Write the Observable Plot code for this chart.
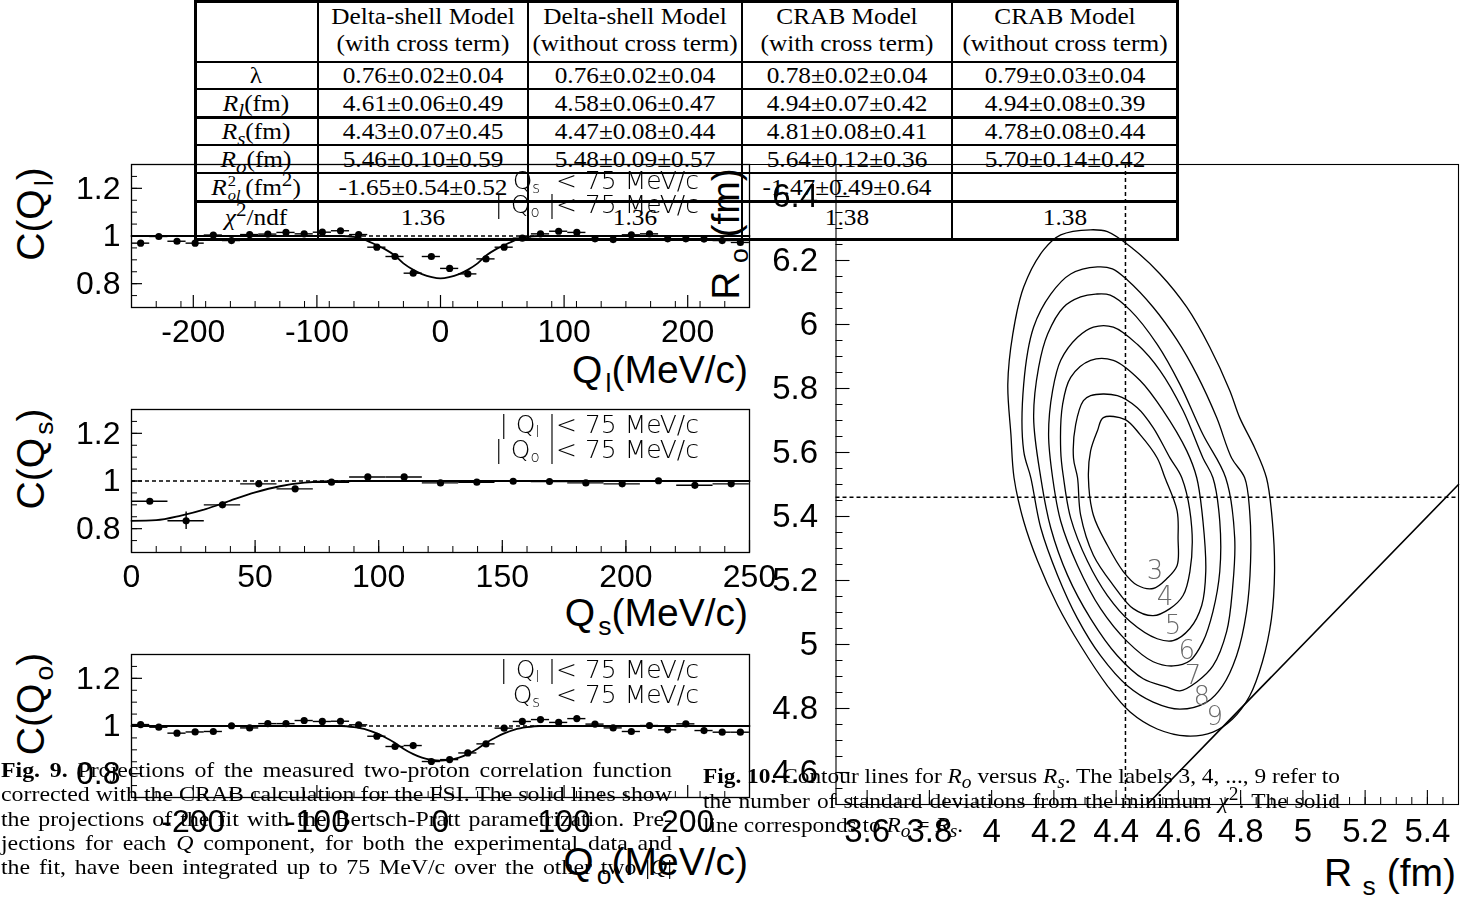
<!DOCTYPE html>
<html><head><meta charset="utf-8"><title>Two-proton correlation projections and R_o vs R_s contours</title>
<script src="https://cdn.jsdelivr.net/npm/d3@7"></script>
<script src="https://cdn.jsdelivr.net/npm/@observablehq/plot@0.6"></script>
<style>
html,body{margin:0;padding:0;background:#fff;}
body{position:relative;width:1481px;height:903px;overflow:hidden;color:#000;}
.t{position:absolute;white-space:nowrap;}
.sans{font-family:"Liberation Sans",Arial,Helvetica,sans-serif;}
.serif{font-family:"Liberation Serif","Times New Roman",Times,serif;}
sub,sup{line-height:0;}
.title{font-size:39px;line-height:40px;}
.title sub{font-size:0.68em;vertical-align:-0.35em;margin-left:0.12em;}
.ann{font-family:"DejaVu Sans",sans-serif;font-weight:200;font-size:25px;line-height:26px;color:#000;filter:grayscale(1);}
.ann sub{font-size:0.6em;vertical-align:-0.25em;}
.cell{font-size:23px;line-height:26px;text-align:center;transform:translate(-50%,-50%) scaleX(1.1);}
.ss{position:relative;display:inline-block;width:17px;height:12px;}
.ss .a{position:absolute;left:1px;top:-9px;font-size:15px;line-height:15px;}
.ss .b{position:absolute;left:1px;top:5px;font-size:15px;line-height:15px;}
.line{position:absolute;background:#000;}
.cap{position:absolute;font-family:"Liberation Serif","Times New Roman",serif;font-size:22px;line-height:24px;white-space:nowrap;}
.just{text-align:justify;text-align-last:justify;white-space:normal;}
svg{overflow:visible;}
</style></head><body>
<script>
// ======================= DATA =======================
// bin centres (MeV/c) of the 1D projections
const qBinsFull = [-242.6,-227.9,-213.2,-198.5,-183.8,-169.1,-154.4,-139.7,-125.0,-110.3,-95.6,-80.9,-66.2,-51.5,-36.8,-22.1,-7.4,7.4,22.1,36.8,51.5,66.2,80.9,95.6,110.3,125.0,139.7,154.4,169.1,183.8,198.5,213.2,227.9,242.6];
const qBinsHalf = [7.4,22.1,36.8,51.5,66.2,80.9,95.6,110.3,125.0,139.7,154.4,169.1,183.8,198.5,213.2,227.9,242.6];
const binHalfWidth = 7.35;

// C(Q_l)
const qlValues = [0.970,0.998,0.978,0.970,1.004,0.981,1.006,1.008,1.015,1.009,1.016,1.022,1.006,0.953,0.914,0.844,0.914,0.864,0.841,0.904,0.953,0.991,1.009,1.020,1.015,0.988,0.985,1.005,1.009,0.988,0.988,0.987,0.981,0.973];
const qlErrors = [0.007,0.007,0.007,0.007,0.007,0.007,0.007,0.007,0.007,0.007,0.007,0.007,0.008,0.008,0.009,0.010,0.010,0.010,0.010,0.009,0.008,0.008,0.007,0.007,0.007,0.007,0.007,0.007,0.007,0.007,0.007,0.007,0.007,0.007];
const qlFitX = [-250,-80,-70,-60,-52,-45,-37,-30,-22,-15,-7,0,7,15,22,30,37,45,52,60,70,80,250];
const qlFitY = [1.0,1.0,0.996,0.982,0.962,0.945,0.918,0.885,0.858,0.840,0.827,0.822,0.827,0.840,0.858,0.885,0.918,0.945,0.962,0.982,0.996,1.0,1.0];

// C(Q_s)
const qsValues = [0.915,0.833,0.900,0.988,0.967,0.995,1.017,1.017,0.992,0.995,0.999,0.998,0.992,0.988,1.001,0.982,0.988];
const qsErrors = [0.012,0.037,0.012,0.008,0.007,0.006,0.006,0.006,0.005,0.005,0.005,0.005,0.005,0.005,0.005,0.005,0.005];
const qsFitX = [0,10,20,30,40,50,60,70,80,90,250];
const qsFitY = [0.833,0.836,0.855,0.882,0.918,0.952,0.978,0.993,0.999,1.0,1.0];

// C(Q_o)
const qoValues = [1.006,0.995,0.970,0.975,0.977,1.001,0.992,1.010,1.010,1.023,1.019,1.020,1.005,0.957,0.914,0.918,0.851,0.859,0.887,0.925,0.991,1.019,1.027,1.015,1.031,1.008,0.992,0.977,1.002,0.984,1.009,0.981,0.974,0.974];
const qoErrors = [0.007,0.007,0.007,0.007,0.007,0.007,0.007,0.007,0.007,0.007,0.007,0.007,0.008,0.008,0.009,0.010,0.010,0.010,0.010,0.009,0.008,0.008,0.007,0.007,0.007,0.007,0.007,0.007,0.007,0.007,0.007,0.007,0.007,0.007];
const qoFitX = [-250,-80,-70,-60,-52,-45,-37,-30,-22,-15,-7,0,7,15,22,30,37,45,52,60,70,80,250];
const qoFitY = [1.0,1.0,0.995,0.985,0.970,0.953,0.930,0.905,0.882,0.867,0.858,0.855,0.858,0.867,0.882,0.905,0.930,0.953,0.970,0.985,0.995,1.0,1.0];

// tick labels
const qFullTicks = [-200,-100,0,100,200];
const qHalfTicks = [0,50,100,150,200,250];
const cTicks = [0.8,1,1.2];
const rsTicks = [3.6,3.8,4,4.2,4.4,4.6,4.8,5,5.2,5.4];
const roTicks = [4.6,4.8,5,5.2,5.4,5.6,5.8,6,6.2,6.4];

// contour lines (R_s, R_o in fm), levels = number of standard deviations
const contourLevels = [3,4,5,6,7,8,9];
const contour3Rs = [4.359,4.429,4.477,4.532,4.557,4.596,4.599,4.596,4.564,4.519,4.468,4.423,4.372,4.327,4.311,4.318,4.340];
const contour3Ro = [5.709,5.703,5.656,5.583,5.521,5.417,5.332,5.247,5.207,5.175,5.185,5.228,5.310,5.404,5.521,5.605,5.668];
const contour4Rs = [4.318,4.404,4.468,4.519,4.573,4.611,4.643,4.637,4.615,4.573,4.519,4.455,4.391,4.327,4.286,4.276,4.263,4.270,4.295];
const contour4Ro = [5.778,5.778,5.740,5.678,5.583,5.521,5.364,5.228,5.153,5.112,5.090,5.112,5.185,5.279,5.404,5.521,5.583,5.687,5.762];
const contour5Rs = [4.318,4.391,4.477,4.551,4.627,4.659,4.679,4.688,4.675,4.637,4.583,4.532,4.445,4.372,4.308,4.254,4.231,4.222,4.228,4.254];
const contour5Ro = [5.888,5.888,5.825,5.731,5.605,5.521,5.385,5.228,5.122,5.050,5.012,5.018,5.072,5.153,5.260,5.395,5.521,5.605,5.750,5.835];
const contour6Rs = [4.327,4.391,4.468,4.541,4.615,4.679,4.711,4.733,4.733,4.711,4.679,4.637,4.583,4.519,4.436,4.350,4.276,4.222,4.196,4.183,4.196,4.222,4.276];
const contour6Ro = [5.992,5.992,5.938,5.856,5.731,5.583,5.521,5.385,5.228,5.103,5.009,4.949,4.933,4.946,5.009,5.112,5.247,5.385,5.521,5.656,5.794,5.888,5.960];
const contour7Rs = [4.334,4.381,4.445,4.532,4.605,4.679,4.752,4.781,4.774,4.755,4.711,4.659,4.605,4.564,4.487,4.404,4.318,4.244,4.190,4.158,4.135,4.151,4.180,4.231,4.286];
const contour7Ro = [6.095,6.092,6.045,5.938,5.813,5.656,5.521,5.332,5.175,5.040,4.933,4.883,4.855,4.867,4.893,4.965,5.081,5.216,5.364,5.521,5.709,5.866,5.970,6.054,6.086];
const contour8Rs = [4.340,4.388,4.436,4.519,4.596,4.659,4.723,4.771,4.813,4.829,4.832,4.819,4.787,4.742,4.691,4.605,4.519,4.436,4.350,4.276,4.212,4.158,4.126,4.103,4.103,4.135,4.190,4.254];
const contour8Ro = [6.180,6.174,6.139,6.054,5.951,5.844,5.709,5.583,5.521,5.417,5.260,5.103,4.965,4.871,4.820,4.798,4.820,4.871,4.965,5.081,5.216,5.364,5.521,5.605,5.813,5.992,6.095,6.158];
const contour9Rs = [4.318,4.372,4.455,4.541,4.627,4.701,4.765,4.797,4.845,4.883,4.902,4.909,4.899,4.870,4.829,4.774,4.711,4.627,4.532,4.445,4.372,4.286,4.212,4.148,4.103,4.072,4.062,4.052,4.068,4.103,4.167,4.222];
const contour9Ro = [6.296,6.290,6.236,6.158,6.054,5.929,5.794,5.709,5.615,5.521,5.385,5.228,5.081,4.946,4.839,4.767,4.726,4.714,4.736,4.789,4.871,4.996,5.122,5.260,5.385,5.521,5.656,5.813,5.970,6.117,6.233,6.280];
const labelRs = [4.525,4.557,4.583,4.627,4.647,4.675,4.717];
const labelRo = [5.232,5.150,5.059,4.980,4.902,4.836,4.773];
const fitMinRs = 4.43, fitMinRo = 5.46;     // best-fit point (dashed lines)
const diagRs = [4.5,5.5], diagRo = [4.5,5.5]; // R_o = R_s

// table
const tableHead1 = ["Delta-shell Model","Delta-shell Model","CRAB Model","CRAB Model"];
const tableHead2 = ["(with cross term)","(without cross term)","(with cross term)","(without cross term)"];
const tableRowLabels = ["λ","<i>R</i><sub><i>l</i></sub>(fm)","<i>R</i><sub><i>s</i></sub>(fm)","<i>R</i><sub><i>o</i></sub>(fm)","<i>R</i><span class='ss'><span class='a'>2</span><span class='b'><i>ol</i></span></span>(fm<sup>2</sup>)","<i>χ</i><sup>2</sup>/ndf"];
const tableLambda = ["0.76±0.02±0.04","0.76±0.02±0.04","0.78±0.02±0.04","0.79±0.03±0.04"];
const tableRl = ["4.61±0.06±0.49","4.58±0.06±0.47","4.94±0.07±0.42","4.94±0.08±0.39"];
const tableRs = ["4.43±0.07±0.45","4.47±0.08±0.44","4.81±0.08±0.41","4.78±0.08±0.44"];
const tableRo = ["5.46±0.10±0.59","5.48±0.09±0.57","5.64±0.12±0.36","5.70±0.14±0.42"];
const tableRol2 = ["-1.65±0.54±0.52","","-1.47±0.49±0.64",""];
const tableChi2 = ["1.36","1.36","1.38","1.38"];

// ======================= LAYOUT HELPERS =======================
const fontSans = "'Liberation Sans', Arial, Helvetica, sans-serif";
function addDiv(cls, style, html) {
  const d = document.createElement("div");
  d.className = cls;
  Object.assign(d.style, style);
  d.innerHTML = html;
  document.body.appendChild(d);
  return d;
}
const fmt = d => String(d);

// ======================= 1D PANELS =======================
function panel({frameTop, xDomain, xTicks, xMinorStep, bins, values, errors, fitX, fitY}) {
  const W = 760, ml = 131, mr = 11, mt = 24, fh = 143, H = 262, mb = H - mt - fh;
  const fw = W - ml - mr;
  const pts = bins.map((q, i) => ({q, c: values[i], e: errors[i]}));
  const fit = fitX.map((x, i) => ({x, y: fitY[i]}));
  const xMinor = d3.range(xDomain[0], xDomain[1] + 1e-9, xMinorStep);
  const yMinor = d3.range(0.7, 1.3001, 0.05);
  const svg = Plot.plot({
    width: W, height: H, marginLeft: ml, marginRight: mr, marginTop: mt, marginBottom: mb,
    x: {domain: xDomain, label: null},
    y: {domain: [0.7, 1.3], label: null},
    style: {background: "transparent", overflow: "visible", fontFamily: fontSans, fontSize: "32px", color: "black"},
    marks: [
      Plot.ruleY([1], {strokeDasharray: "4,3", strokeWidth: 1.6}),
      Plot.line(fit, {x: "x", y: "y", curve: "monotone-x", strokeWidth: 1.8}),
      Plot.ruleY(pts, {y: "c", x1: d => d.q - binHalfWidth, x2: d => d.q + binHalfWidth, strokeWidth: 1.4}),
      Plot.ruleX(pts, {x: "q", y1: d => d.c - d.e, y2: d => d.c + d.e, strokeWidth: 1.4}),
      Plot.dot(pts, {x: "q", y: "c", r: 3.6, fill: "black", stroke: "none"}),
      Plot.tickX(xTicks, {x: d => d, insetTop: fh - 12, strokeWidth: 1.2}),
      Plot.tickX(xMinor, {x: d => d, insetTop: fh - 6, strokeWidth: 1}),
      Plot.tickY(cTicks, {y: d => d, insetRight: fw - 11, strokeWidth: 1.2}),
      Plot.tickY(yMinor, {y: d => d, insetRight: fw - 6, strokeWidth: 1}),
      Plot.axisX({ticks: xTicks, tickSize: 0, tickPadding: 12, tickFormat: fmt, label: null, fontSize: 32}),
      Plot.axisY({ticks: cTicks, tickSize: 0, tickPadding: 11, tickFormat: fmt, label: null, fontSize: 32}),
      Plot.frame({strokeWidth: 1.3})
    ]
  });
  svg.style.position = "absolute";
  svg.style.left = "0px";
  svg.style.top = (frameTop - mt) + "px";
  svg.style.filter = "grayscale(1)";
  document.body.appendChild(svg);
}

panel({frameTop: 164, xDomain: [-250, 250], xTicks: qFullTicks, xMinorStep: 20, bins: qBinsFull, values: qlValues, errors: qlErrors, fitX: qlFitX, fitY: qlFitY});
panel({frameTop: 409, xDomain: [0, 250], xTicks: qHalfTicks, xMinorStep: 10, bins: qBinsHalf, values: qsValues, errors: qsErrors, fitX: qsFitX, fitY: qsFitY});
panel({frameTop: 654, xDomain: [-250, 250], xTicks: qFullTicks, xMinorStep: 20, bins: qBinsFull, values: qoValues, errors: qoErrors, fitX: qoFitX, fitY: qoFitY});

// ======================= CONTOUR PANEL =======================
{
  const W = 781, ml = 135.5, mr = 23, mt = 24, fh = 640, H = 763, mb = H - mt - fh;
  const fw = W - ml - mr;
  const rsArr = [contour3Rs, contour4Rs, contour5Rs, contour6Rs, contour7Rs, contour8Rs, contour9Rs];
  const roArr = [contour3Ro, contour4Ro, contour5Ro, contour6Ro, contour7Ro, contour8Ro, contour9Ro];
  const contours = contourLevels.flatMap((lev, i) => rsArr[i].map((rs, j) => ({level: lev, rs, ro: roArr[i][j]})));
  const labels = contourLevels.map((lev, i) => ({text: String(lev), rs: labelRs[i], ro: labelRo[i]}));
  const diag = diagRs.map((rs, i) => ({rs, ro: diagRo[i]}));
  const xMinor = d3.range(3.5, 5.5001, 0.05);
  const yMinor = d3.range(4.5, 6.5001, 0.05);
  const svg = Plot.plot({
    width: W, height: H, marginLeft: ml, marginRight: mr, marginTop: mt, marginBottom: mb,
    x: {domain: [3.5, 5.5], label: null},
    y: {domain: [4.5, 6.5], label: null},
    style: {background: "transparent", overflow: "visible", fontFamily: fontSans, fontSize: "33px", color: "black"},
    marks: [
      Plot.ruleX([fitMinRs], {strokeDasharray: "4,3", strokeWidth: 1.5}),
      Plot.ruleY([fitMinRo], {strokeDasharray: "4,3", strokeWidth: 1.5}),
      Plot.line(diag, {x: "rs", y: "ro", strokeWidth: 1.6}),
      Plot.line(contours, {x: "rs", y: "ro", z: "level", curve: "catmull-rom-closed", strokeWidth: 1.3}),
      Plot.text(labels, {x: "rs", y: "ro", text: "text", fill: "#6a6a6a", fontSize: 26, fontFamily: "DejaVu Sans, sans-serif", fontWeight: 200}),
      Plot.tickX(rsTicks, {x: d => d, insetTop: fh - 14, strokeWidth: 1.1}),
      Plot.tickX(xMinor, {x: d => d, insetTop: fh - 7, strokeWidth: 1}),
      Plot.tickY(roTicks, {y: d => d, insetRight: fw - 14, strokeWidth: 1.1}),
      Plot.tickY(yMinor, {y: d => d, insetRight: fw - 7, strokeWidth: 1}),
      Plot.axisX({ticks: rsTicks, tickSize: 0, tickPadding: 14, tickFormat: fmt, label: null, fontSize: 33}),
      Plot.axisY({ticks: roTicks, tickSize: 0, tickPadding: 18, tickFormat: fmt, label: null, fontSize: 33}),
      Plot.frame({strokeWidth: 1.1})
    ]
  });
  svg.style.position = "absolute";
  svg.style.left = "700px";
  svg.style.top = (164 - mt) + "px";
  svg.style.filter = "grayscale(1)";
  document.body.appendChild(svg);
}
// thin connecting line between the two top frames
addDiv("line", {left: "749px", top: "163.5px", width: "87px", height: "1.1px"}, "");

// ======================= TABLE =======================
{
  const colX = [195, 317.5, 528, 741.7, 952, 1177];
  const colW = [3, 2, 2, 2, 2, 3];
  const rowY = [0, 61.5, 89.3, 117.3, 145, 173.3, 201.7, 239.3];
  const rowW = [3, 2, 2, 3, 2, 2, 3, 3];
  rowY.forEach((y, i) => addDiv("line", {left: colX[0] - 1.5 + "px", top: (y - rowW[i] / 2 + (i === 0 ? 1.5 : 0)) + "px", width: (colX[5] - colX[0] + 3) + "px", height: rowW[i] + "px"}, ""));
  colX.forEach((x, i) => addDiv("line", {left: (x - colW[i] / 2) + "px", top: "0px", width: colW[i] + "px", height: "241px"}, ""));
  const cx = colX.slice(0, 5).map((x, i) => (x + colX[i + 1]) / 2);
  const rowsC = [75.5, 103.5, 131.5, 159.5, 188, 218];
  const rows = [tableLambda, tableRl, tableRs, tableRo, tableRol2, tableChi2];
  const cellStyle = (x, y) => ({left: x + "px", top: y + "px"});
  tableHead1.forEach((t, j) => addDiv("t serif cell", cellStyle(cx[j + 1], 16.5), t));
  tableHead2.forEach((t, j) => addDiv("t serif cell", cellStyle(cx[j + 1], 44), t));
  tableRowLabels.forEach((t, i) => addDiv("t serif cell", cellStyle(cx[0], rowsC[i]), t));
  rows.forEach((r, i) => r.forEach((t, j) => { if (t) addDiv("t serif cell", cellStyle(cx[j + 1], rowsC[i]), t); }));
}

// ======================= AXIS TITLES =======================
function rightTitle(html, right, capCenter, size) {
  addDiv("t sans title", {right: (1481 - right) + "px", top: (capCenter - 20) + "px", fontSize: (size || 39) + "px"}, html);
}
function rotTitle(html, cx, cy, size) {
  addDiv("t sans title", {left: cx + "px", top: cy + "px", transform: "translate(-50%,-50%) rotate(-90deg)", fontSize: (size || 39) + "px"}, html);
}
rightTitle("Q<sub>l</sub>(MeV/c)", 748, 370);
rightTitle("Q<sub>s</sub>(MeV/c)", 748, 613);
rightTitle("Q<sub>o</sub>(MeV/c)", 748, 862);
rotTitle("C(Q<sub>l</sub>)", 31, 214);
rotTitle("C(Q<sub>s</sub>)", 31, 459);
rotTitle("C(Q<sub>o</sub>)", 31, 704);
rotTitle("R<sub>&thinsp;o</sub>&nbsp;(fm)", 726, 234);
rightTitle("R<sub>&nbsp;s</sub>&nbsp;(fm)", 1456, 873);

// ======================= PANEL ANNOTATIONS =======================
function ann(html, centerY) {
  addDiv("t ann", {right: (1481 - 699) + "px", top: (centerY - 13) + "px"}, html);
}
ann("Q<sub>s</sub>&nbsp;&nbsp;&lt; 75 MeV/c", 181);
ann("| Q<sub>o</sub> |&lt; 75 MeV/c", 205);
ann("| Q<sub>l</sub> |&lt; 75 MeV/c", 425);
ann("| Q<sub>o</sub> |&lt; 75 MeV/c", 450);
ann("| Q<sub>l</sub> |&lt; 75 MeV/c", 670);
ann("Q<sub>s</sub>&nbsp;&nbsp;&lt; 75 MeV/c", 695);

// ======================= CAPTIONS =======================
function caption(lines, left, width, firstCenter, spacing, justifyCount) {
  const divs = lines.map((t, i) => addDiv("cap", {left: left + "px", top: (firstCenter + spacing * i - 13) + "px"}, t));
  const natural = divs.map(d => d.getBoundingClientRect().width);
  const s = Math.max(1, width / Math.max(...natural));
  divs.forEach((d, i) => {
    d.style.transformOrigin = "0 0";
    d.style.transform = `scaleX(${s})`;
    d.style.width = (width / s) + "px";
    if (i < justifyCount) d.classList.add("just");
  });
}
const fig9Lines = [
  "<b>Fig. 9.</b> Projections of the measured two-proton correlation function",
  "corrected with the CRAB calculation for the FSI. The solid lines show",
  "the projections of the fit with the Bertsch-Pratt parametrization. Pre-",
  "jections for each <i>Q</i> component, for both the experimental data and",
  "the fit, have been integrated up to 75 MeV/c over the other two |<i>Q</i>|"
];
caption(fig9Lines, 1, 671, 771, 24.3, 5);
const fig10Lines = [
  "<b>Fig. 10.</b> Contour lines for <i>R<sub>o</sub></i> versus <i>R<sub>s</sub></i>. The labels 3, 4, ..., 9 refer to",
  "the number of standard deviations from the minimum <i>χ</i><sup>2</sup>. The solid",
  "line corresponds to <i>R<sub>o</sub></i> = <i>R<sub>s</sub></i>."
];
caption(fig10Lines, 703, 637, 777, 24.5, 2);
</script>
</body></html>
